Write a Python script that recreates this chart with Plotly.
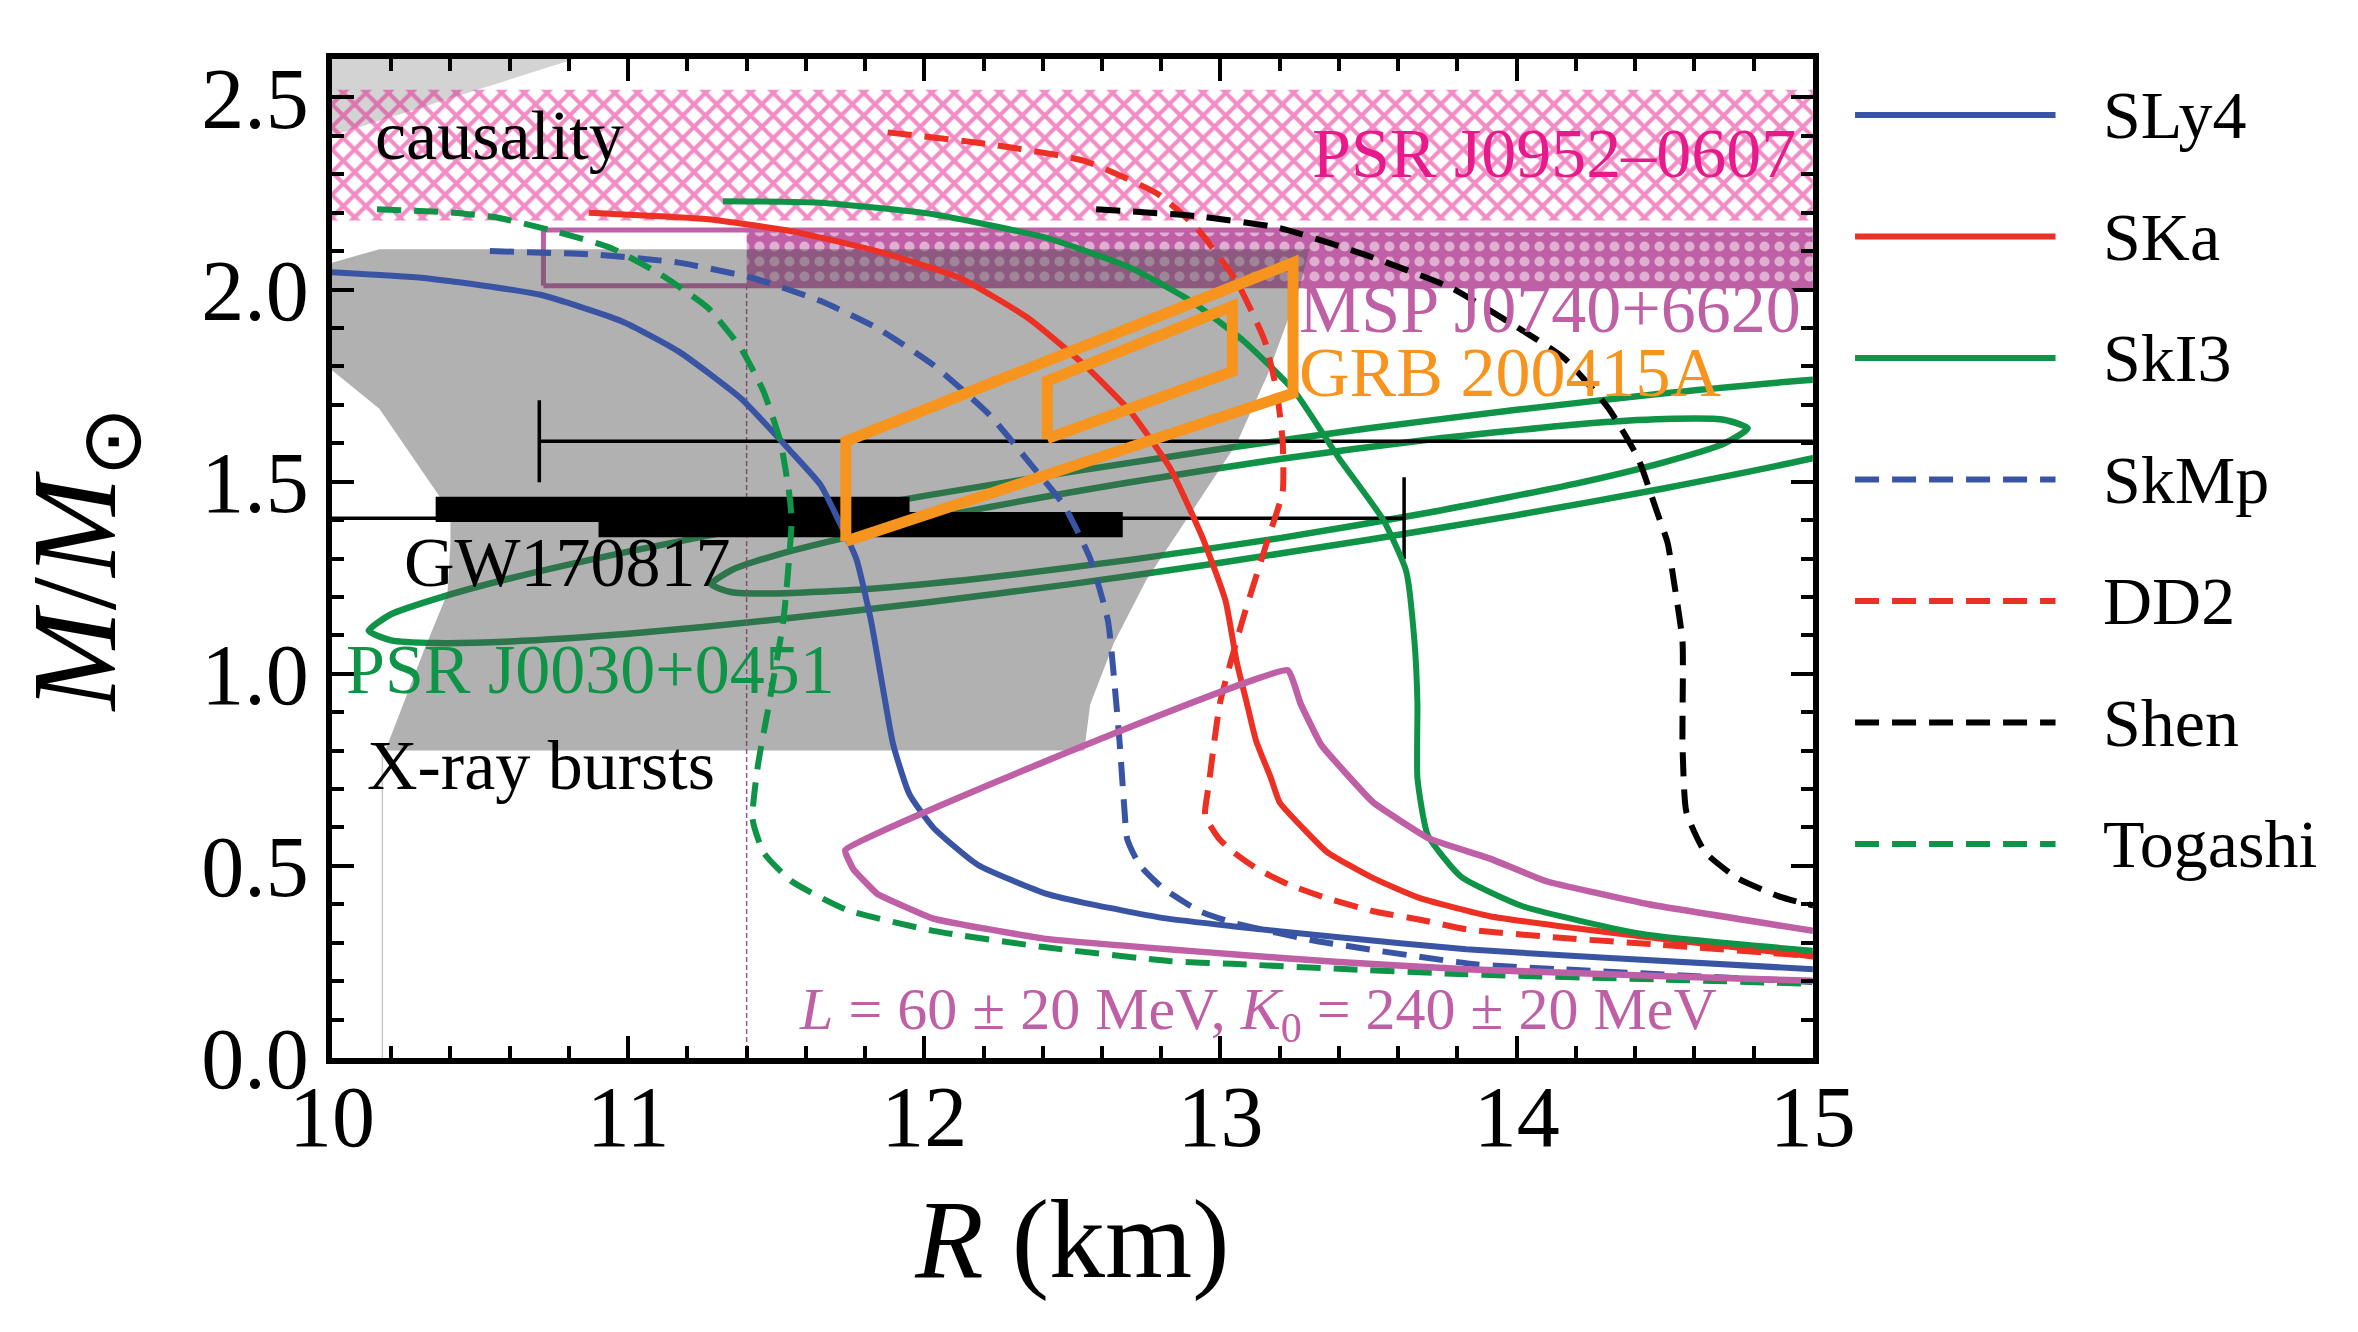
import plotly.graph_objects as go

FONT = "Liberation Serif, Times New Roman, serif"
BLUE = "#3a54a4"
RED = "#ed3024"
GREEN = "#0e9347"
PURPLE = "#bf5fa5"
PINK = "#e8198b"
ORANGE = "#f7941d"

# ---- mass-radius curves (R in km, M in solar masses) ----
eos_names = ["SLy4", "SKa", "SkI3", "SkMp", "DD2", "Shen", "Togashi"]

sly4_r = [9.95, 10.31, 10.70, 10.98, 11.17, 11.38, 11.55, 11.65, 11.71, 11.77, 11.82, 11.857,
          11.895, 11.95, 12.03, 12.18, 12.41, 12.57, 12.81, 13.04, 13.4, 13.83, 14.3, 15.05]
sly4_m = [2.047, 2.03, 1.987, 1.917, 1.839, 1.717, 1.578, 1.491, 1.40, 1.30, 1.138, 0.976,
          0.815, 0.686, 0.60, 0.503, 0.428, 0.399, 0.364, 0.343, 0.314, 0.283, 0.261, 0.229]

ska_r = [10.867, 11.27, 11.55, 11.84, 12.12, 12.35, 12.54, 12.695, 12.83, 12.94, 13.017, 13.055,
         13.09, 13.12, 13.17, 13.20, 13.28, 13.36, 13.516, 13.674, 13.91, 14.147, 14.46, 15.05]
ska_m = [2.20, 2.183, 2.152, 2.10, 2.03, 1.926, 1.804, 1.683, 1.535, 1.353, 1.19, 1.03,
         0.92, 0.826, 0.729, 0.665, 0.597, 0.536, 0.468, 0.416, 0.369, 0.343, 0.313, 0.26]

ski3_r = [11.32, 11.65, 12.03, 12.41, 12.695, 12.90, 13.08, 13.25, 13.40, 13.55, 13.627, 13.655,
          13.665, 13.665, 13.70, 13.812, 14.02, 14.43, 15.05]
ski3_m = [2.23, 2.226, 2.196, 2.135, 2.057, 1.97, 1.865, 1.735, 1.561, 1.40, 1.267, 1.084,
          0.923, 0.729, 0.58, 0.472, 0.395, 0.322, 0.276]

skmp_r = [10.533, 10.886, 11.17, 11.42, 11.65, 11.84, 12.03, 12.22, 12.37, 12.47, 12.56, 12.62,
          12.645, 12.66, 12.675, 12.685, 12.727, 12.806, 12.93, 13.043, 13.327, 13.86, 14.147, 15.05]
skmp_m = [2.10, 2.091, 2.07, 2.03, 1.97, 1.90, 1.804, 1.674, 1.535, 1.44, 1.30, 1.138,
          0.95, 0.815, 0.654, 0.57, 0.502, 0.442, 0.382, 0.352, 0.304, 0.244, 0.231, 0.196]

dd2_r = [11.876, 12.22, 12.54, 12.79, 12.92, 13.055, 13.15, 13.19, 13.21, 13.21, 13.16, 13.074,
         12.998, 12.96, 12.948, 12.995, 13.043, 13.122, 13.232, 13.358, 13.516, 13.674, 13.83,
         14.147, 14.46, 15.05]
dd2_m = [2.409, 2.378, 2.335, 2.248, 2.16, 2.02, 1.865, 1.735, 1.604, 1.474, 1.35, 1.138,
         0.923, 0.708, 0.631, 0.571, 0.536, 0.493, 0.451, 0.416, 0.382, 0.36, 0.335,
         0.313, 0.296, 0.262]

shen_r = [12.58, 12.92, 13.2, 13.49, 13.78, 13.97, 14.16, 14.31, 14.41, 14.47, 14.51, 14.53,
          14.56, 14.56, 14.573, 14.636, 14.746, 14.888, 14.967, 15.05]
shen_m = [2.209, 2.191, 2.16, 2.09, 2.004, 1.917, 1.822, 1.691, 1.561, 1.43, 1.34, 1.245,
          1.084, 0.815, 0.64, 0.536, 0.468, 0.42, 0.403, 0.39]

togashi_r = [10.152, 10.41, 10.56, 10.75, 10.94, 11.11, 11.27, 11.38, 11.457, 11.514, 11.543,
             11.552, 11.524, 11.476, 11.438, 11.42, 11.457, 11.552, 11.74, 12.03, 12.41, 12.83,
             13.04, 13.4, 13.83, 14.5, 15.05]
togashi_m = [2.209, 2.20, 2.187, 2.152, 2.109, 2.039, 1.952, 1.848, 1.735, 1.604, 1.474,
             1.40, 1.138, 0.923, 0.761, 0.622, 0.535, 0.46, 0.385, 0.331, 0.288, 0.252,
             0.245, 0.232, 0.218, 0.204, 0.192]

eos_r = [sly4_r, ska_r, ski3_r, skmp_r, dd2_r, shen_r, togashi_r]
eos_m = [sly4_m, ska_m, ski3_m, skmp_m, dd2_m, shen_m, togashi_m]
eos_colors = [BLUE, RED, GREEN, BLUE, RED, "black", GREEN]
eos_dash = ["solid", "solid", "solid", "24px,13px", "24px,13px", "24px,13px", "24px,13px"]

# L = 60 +- 20 MeV, K0 = 240 +- 20 MeV band (open outline)
lk_r = [15.05, 14.446, 14.1, 13.91, 13.705, 13.516, 13.34, 13.27, 13.227,
        11.733, 11.76, 11.84, 12.03, 12.41, 13.04, 13.4, 13.83, 14.5, 15.05]
lk_m = [0.325, 0.40, 0.46, 0.519, 0.571, 0.665, 0.815, 0.923, 1.009,
        0.541, 0.492, 0.428, 0.363, 0.31, 0.27, 0.25, 0.231, 0.213, 0.200]

# X-ray bursts region
xray_r = [10.0, 10.16, 13.30, 13.265, 13.16, 13.055, 12.91, 12.75, 12.64, 12.56, 12.54,
          10.18, 10.24, 10.31, 10.39, 10.40, 10.40, 10.31, 10.16, 10.0]
xray_m = [2.07, 2.105, 2.105, 2.0, 1.78, 1.60, 1.43, 1.245, 1.08, 0.92, 0.80,
          0.80, 0.92, 1.06, 1.21, 1.34, 1.42, 1.52, 1.69, 1.79]

# causality limit region
caus_r = [10.0, 10.9, 10.0]
caus_m = [2.40, 2.62, 2.62]

# pulsar mass bands
j0952_m = [2.18, 2.52]
j0740_m = [2.01, 2.155]
j0740_box_r = [10.714, 15.1]
j0740_hatch_r = [11.40, 15.1]
band_r = [9.9, 15.1]

# NICER PSR J0030+0451 contours
ellA_r = [10.124, 10.2, 10.35, 10.6, 11.0, 11.5, 12.0, 12.5, 13.0, 13.5, 14.0, 14.5, 15.0, 15.4, 15.78,
          15.4, 15.0, 14.5, 14.0, 13.5, 13.0, 12.5, 12.0, 11.5, 11.0, 10.6, 10.35, 10.2, 10.124]
ellA_m = [1.112, 1.155, 1.195, 1.248, 1.318, 1.394, 1.463, 1.526, 1.585, 1.639, 1.687, 1.730, 1.765, 1.782, 1.751,
          1.634, 1.561, 1.483, 1.413, 1.349, 1.289, 1.234, 1.185, 1.141, 1.104, 1.084, 1.080, 1.087, 1.112]
ellB_r = [11.28, 11.35, 11.5, 11.8, 12.2, 12.7, 13.2, 13.7, 14.2, 14.5, 14.7, 14.78,
          14.7, 14.5, 14.2, 13.7, 13.2, 12.7, 12.2, 11.8, 11.5, 11.35, 11.28]
ellB_m = [1.233, 1.270, 1.309, 1.366, 1.431, 1.499, 1.559, 1.609, 1.649, 1.663, 1.661, 1.639,
          1.599, 1.551, 1.495, 1.419, 1.353, 1.297, 1.249, 1.220, 1.209, 1.212, 1.233]

# GW170817 radius bars and error bars
gw_bar_lo = [10.35, 10.90]
gw_bar_hi = [11.95, 12.67]
gw_bar_m = [1.428, 1.388]
gw_bar_half = 0.033
err_r = [11.9, 13.0]
err_m = [1.405, 1.605]
err_plus = [1.72, 2.5]
err_minus = [2.4, 2.30]

# GRB 200415A parallelograms
grb_out_r = [11.735, 11.735, 13.245, 13.245, 11.735]
grb_out_m = [1.345, 1.605, 2.07, 1.73, 1.345]
grb_in_r = [12.415, 12.415, 13.04, 13.04, 12.415]
grb_in_m = [1.612, 1.762, 1.957, 1.787, 1.612]

# vertical guide lines
j0740_rmin = 11.40
burst_rmin = 10.17

fig = go.Figure()


def poly(x, y, **kw):
    fig.add_trace(go.Scatter(x=x, y=y, hoverinfo="skip", showlegend=False, **kw))


poly(caus_r, caus_m, mode="lines", fill="toself", fillcolor="#d3d3d3", line=dict(width=0))
poly([band_r[0], band_r[1], band_r[1], band_r[0]], [j0952_m[0], j0952_m[0], j0952_m[1], j0952_m[1]],
     mode="lines", fill="toself", fillcolor="rgba(0,0,0,0)", line=dict(width=0),
     fillpattern=dict(shape="x", fgcolor=PINK, bgcolor="rgba(0,0,0,0)", size=16, solidity=0.45))
# J0740 band: purple with small white holes
poly([j0740_hatch_r[0], j0740_hatch_r[1], j0740_hatch_r[1], j0740_hatch_r[0]],
     [j0740_m[0], j0740_m[0], j0740_m[1], j0740_m[1]],
     mode="lines", fill="toself", fillcolor=PURPLE, line=dict(width=0),
     fillpattern=dict(shape=".", fgcolor="white", bgcolor=PURPLE, size=15, solidity=0.36))
poly([j0740_box_r[0], j0740_box_r[1], j0740_box_r[1], j0740_box_r[0], j0740_box_r[0]],
     [j0740_m[0], j0740_m[0], j0740_m[1], j0740_m[1], j0740_m[0]],
     mode="lines", line=dict(color=PURPLE, width=5))

for er, em in [(ellA_r, ellA_m), (ellB_r, ellB_m)]:
    poly(er, em, mode="lines", line=dict(color=GREEN, width=6.5, shape="spline", smoothing=0.6))

poly([j0740_rmin, j0740_rmin], [0, j0740_m[0]], mode="lines",
     line=dict(color="#a0508c", width=1.5, dash="5px,3px"))
poly([burst_rmin, burst_rmin], [0, xray_m[10]], mode="lines", line=dict(color="#c8c8c8", width=1.5))

poly(xray_r, xray_m, mode="lines", fill="toself", fillcolor="rgba(83,83,83,0.453)", line=dict(width=0))

# GW170817 thick bars
bx, by = [], []
for lo, hi, m in zip(gw_bar_lo, gw_bar_hi, gw_bar_m):
    bx += [lo, hi, hi, lo, lo, None]
    by += [m - gw_bar_half, m - gw_bar_half, m + gw_bar_half, m + gw_bar_half, m - gw_bar_half, None]
poly(bx, by, mode="lines", fill="toself", fillcolor="black", line=dict(width=0))
poly(err_r, err_m, mode="markers", marker=dict(size=1, color="rgba(0,0,0,0)"),
     error_x=dict(type="data", symmetric=False, array=err_plus, arrayminus=err_minus,
                  color="black", thickness=3.5, width=41))

for r, m, c, d in zip(eos_r, eos_m, eos_colors, eos_dash):
    poly(r, m, mode="lines", line=dict(color=c, width=6, dash=d, shape="spline", smoothing=0.5))

poly(lk_r, lk_m, mode="lines", line=dict(color=PURPLE, width=6.5, shape="spline", smoothing=0.3))
poly(grb_out_r, grb_out_m, mode="lines", line=dict(color=ORANGE, width=11))
poly(grb_in_r, grb_in_m, mode="lines", line=dict(color=ORANGE, width=11))

# legend drawn on a hidden side axis
for i, (name, c, d) in enumerate(zip(eos_names, eos_colors, eos_dash)):
    fig.add_trace(go.Scatter(x=[0, 1], y=[i, i], mode="lines", xaxis="x2", yaxis="y2",
                             line=dict(color=c, width=6, dash=d), hoverinfo="skip", showlegend=False))
    fig.add_annotation(x=1.225, y=i, xref="x2", yref="y2", text=name, showarrow=False,
                       xanchor="left", yanchor="middle", font=dict(family=FONT, size=68, color="black"))

labels = [
    ("causality", 10.14, 2.40, "left", "black", 70),
    ("PSR J0952–0607", 14.95, 2.355, "right", PINK, 70),
    ("MSP J0740+6620", 13.26, 1.95, "left", PURPLE, 70),
    ("GRB 200415A", 13.26, 1.783, "left", ORANGE, 70),
    ("GW170817", 10.235, 1.29, "left", "black", 70),
    ("PSR J0030+0451", 10.04, 1.012, "left", GREEN, 70),
    ("X-ray bursts", 10.11, 0.762, "left", "black", 70),
    ("<i>L</i> = 60 ± 20 MeV, <i>K</i><sub>0</sub> = 240 ± 20 MeV", 11.57, 0.115, "left", PURPLE, 60),
]
for txt, x, y, xa, col, sz in labels:
    fig.add_annotation(x=x, y=y, text=txt, showarrow=False, xanchor=xa, yanchor="middle",
                       font=dict(family=FONT, size=sz, color=col))

axis_style = dict(showline=True, linewidth=6, linecolor="black", mirror="ticks", ticks="inside",
                  ticklen=22, tickwidth=4, tickcolor="black", showgrid=False, zeroline=False,
                  tickfont=dict(family=FONT, size=86, color="black"))

fig.update_layout(
    width=2358, height=1332,
    margin=dict(l=324, r=20, t=51, b=282),
    plot_bgcolor="white", paper_bgcolor="white",
    showlegend=False,
    font=dict(family=FONT, color="black"),
    xaxis=dict(range=[10, 15], dtick=1, tick0=10, domain=[0, 0.74826], ticklabelstandoff=-21,
               minor=dict(dtick=0.2, ticks="inside", ticklen=12, tickwidth=4, tickcolor="black"),
               title=dict(text="<i>R</i> (km)", font=dict(family=FONT, size=112), standoff=36),
               **axis_style),
    yaxis=dict(range=[0, 2.6], dtick=0.5, tick0=0, tickformat=".1f",
               minor=dict(dtick=0.1, ticks="inside", ticklen=12, tickwidth=4, tickcolor="black"),
               title=dict(text="<i>M</i>/<i>M</i><sub>⊙</sub>", font=dict(family=FONT, size=120), standoff=75),
               **axis_style),
    xaxis2=dict(domain=[0.76961, 1.0], range=[0, 2.2745], visible=False, anchor="y2"),
    yaxis2=dict(domain=[0, 1], range=[7.761, -0.461], visible=False, anchor="x2"),
)

fig.write_html("out.html")
